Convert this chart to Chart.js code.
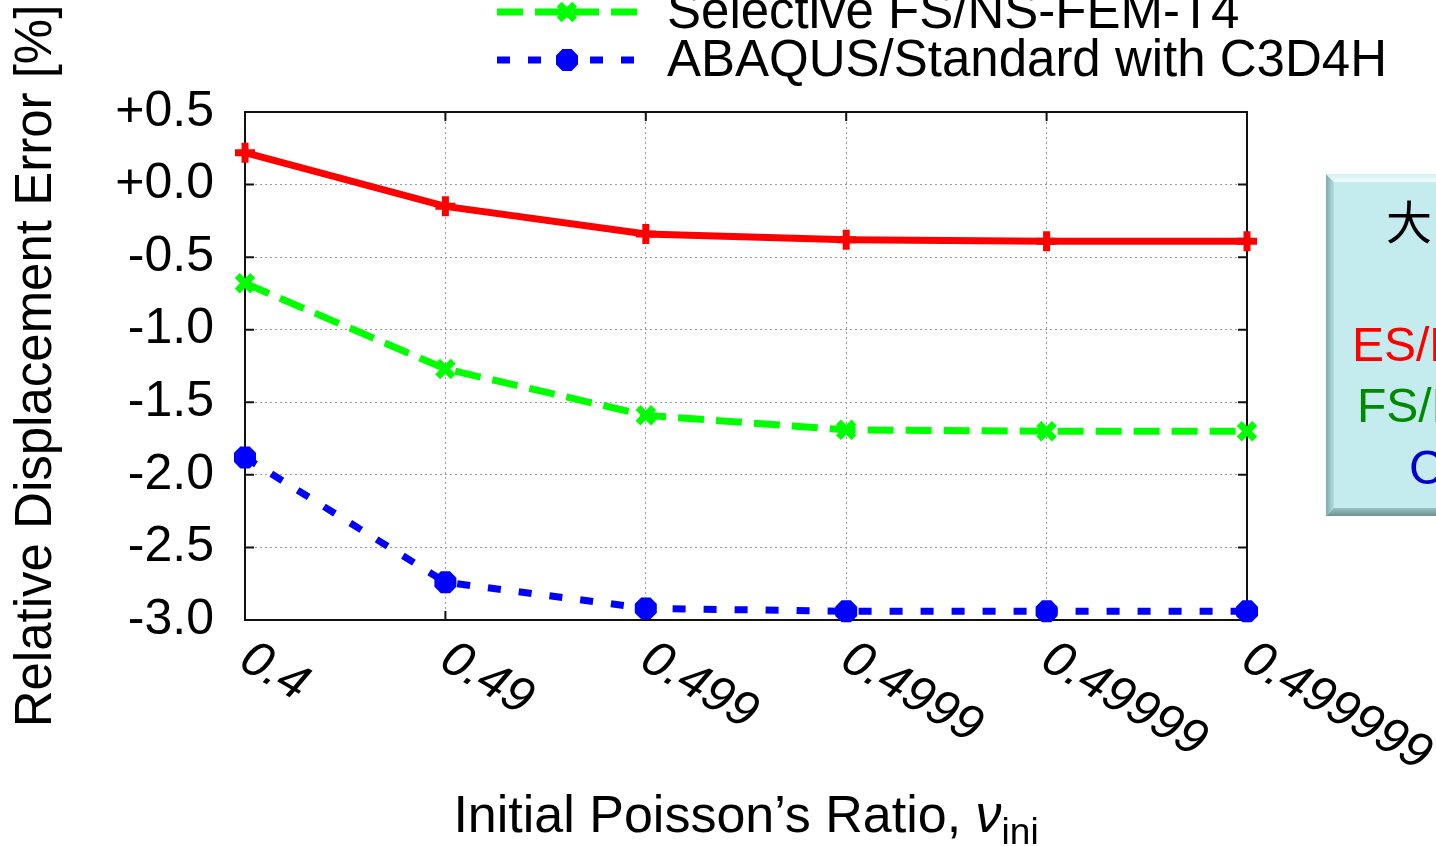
<!DOCTYPE html>
<html>
<head>
<meta charset="utf-8">
<title>Relative displacement error vs. initial Poisson's ratio</title>
<script src="https://cdn.jsdelivr.net/npm/chart.js@4/dist/chart.umd.min.js"></script>
<style>
    html, body { margin: 0; padding: 0; background: #ffffff; overflow: hidden; }
    canvas { display: block; }
</style>
</head>
<body>
<canvas id="errorChart" width="1436" height="846"></canvas>
<script>
// Initial Poisson's ratio cases (categorical, evenly spaced)
const poissonLabels = ['0.4', '0.49', '0.499', '0.4999', '0.49999', '0.499999'];

// Relative displacement error [%] for each method
const esNsFemValues = [0.22, -0.15, -0.34, -0.38, -0.39, -0.39];
const fsNsFemValues = [-0.68, -1.27, -1.59, -1.69, -1.70, -1.70];
const abaqusValues = [-1.88, -2.74, -2.92, -2.94, -2.94, -2.94];

const seriesNames = ['Selective ES/NS-FEM-T4', 'Selective FS/NS-FEM-T4', 'ABAQUS/Standard with C3D4H'];

// y axis range and step
const yMin = -3.0;
const yMax = 0.5;
const yStep = 0.5;

// text of the side note box, one entry per line
const noteLines = [
    { text: '大', color: '#000000' },
    { text: 'ES/NS-FEM-T4', color: '#ff0000' },
    { text: 'FS/NS-FEM-T4', color: '#008a00' },
    { text: 'C3D4H', color: '#0000cc' }
];

const FONT = '"Liberation Sans", Arial, Helvetica, sans-serif';

/**
 * Frame with inward tick marks on all four sides
 */
const framePlugin = {
    id: 'frame',
    beforeDatasetsDraw(chart) {
        const { ctx, chartArea: a, scales } = chart;
        const tick = 9;
        ctx.save();
        ctx.strokeStyle = '#111111';
        ctx.lineWidth = 2;
        ctx.beginPath();
        scales.y.ticks.forEach(t => {
            const y = scales.y.getPixelForValue(t.value);
            ctx.moveTo(a.left, y); ctx.lineTo(a.left + tick, y);
            ctx.moveTo(a.right, y); ctx.lineTo(a.right - tick, y);
        });
        poissonLabels.forEach((_, i) => {
            const x = scales.x.getPixelForValue(i);
            ctx.moveTo(x, a.bottom); ctx.lineTo(x, a.bottom - tick);
            ctx.moveTo(x, a.top); ctx.lineTo(x, a.top + tick);
        });
        ctx.stroke();
        ctx.strokeRect(a.left, a.top, a.right - a.left, a.bottom - a.top);
        ctx.restore();
    }
};

/**
 * Slanted x tick labels, axis titles, key and the note box
 */
const decorPlugin = {
    id: 'decor',
    afterDraw(chart) {
        const { ctx, chartArea: a, scales } = chart;
        ctx.save();
        ctx.fillStyle = '#000000';

        // slanted category labels
        ctx.font = 'italic 50px ' + FONT;
        ctx.textAlign = 'left';
        ctx.textBaseline = 'alphabetic';
        poissonLabels.forEach((label, i) => {
            const x = scales.x.getPixelForValue(i);
            ctx.save();
            ctx.translate(x - 8, a.bottom + 47);
            ctx.rotate(30 * Math.PI / 180);
            ctx.fillText(label, 0, 0);
            ctx.restore();
        });

        // x axis title with subscript
        const main = 'Initial Poisson\u2019s Ratio, ';
        const fMain = '52px ' + FONT;
        const fNu = 'italic 52px ' + FONT;
        const fSub = '37px ' + FONT;
        ctx.font = fMain; const wMain = ctx.measureText(main).width;
        ctx.font = fNu; const wNu = ctx.measureText('\u03bd').width;
        ctx.font = fSub; const wSub = ctx.measureText('ini').width;
        let tx = (a.left + a.right) / 2 - (wMain + wNu + wSub) / 2;
        const ty = 832;
        ctx.font = fMain; ctx.fillText(main, tx, ty); tx += wMain;
        ctx.font = fNu; ctx.fillText('\u03bd', tx, ty); tx += wNu;
        ctx.font = fSub; ctx.fillText('ini', tx, ty + 12);

        // y axis title
        ctx.save();
        ctx.font = '51px ' + FONT;
        ctx.textAlign = 'center';
        ctx.textBaseline = 'middle';
        ctx.translate(37, (a.top + a.bottom) / 2);
        ctx.rotate(-Math.PI / 2);
        ctx.fillText('Relative Displacement Error [%]', 0, 0);
        ctx.restore();

        // key, stacked upward from the last entry
        const n = chart.data.datasets.length;
        chart.data.datasets.forEach((ds, j) => {
            const y = 60 - 48 * (n - 1 - j);
            ctx.save();
            ctx.strokeStyle = ds.borderColor;
            ctx.lineWidth = ds.borderWidth;
            ctx.setLineDash(ds.borderDash || []);
            ctx.beginPath();
            ctx.moveTo(497, y);
            ctx.lineTo(637, y);
            ctx.stroke();
            ctx.setLineDash([]);
            if (Chart.helpers && Chart.helpers.drawPoint) {
                ctx.fillStyle = ds.pointBackgroundColor;
                ctx.strokeStyle = ds.pointBorderColor;
                ctx.lineWidth = ds.pointBorderWidth;
                Chart.helpers.drawPoint(ctx, {
                    pointStyle: ds.pointStyle,
                    radius: ds.pointRadius,
                    rotation: 0,
                    borderWidth: ds.pointBorderWidth
                }, 567, y);
            }
            ctx.restore();
            ctx.font = '51px ' + FONT;
            ctx.textAlign = 'left';
            ctx.textBaseline = 'middle';
            ctx.fillStyle = '#000000';
            ctx.fillText(ds.label, 667, y + 2);
        });

        // bevelled note box on the right
        const bx = 1326, by = 174, bw = 260, bh = 342, bev = 8;
        ctx.fillStyle = '#c4ecee';
        ctx.fillRect(bx, by, bw, bh);
        let g = ctx.createLinearGradient(bx, 0, bx + bev, 0);
        g.addColorStop(0, '#7fa8aa');
        g.addColorStop(1, '#b4dfe1');
        ctx.fillStyle = g;
        ctx.beginPath();
        ctx.moveTo(bx, by); ctx.lineTo(bx + bev, by + bev);
        ctx.lineTo(bx + bev, by + bh - bev); ctx.lineTo(bx, by + bh);
        ctx.closePath(); ctx.fill();
        g = ctx.createLinearGradient(0, by, 0, by + bev);
        g.addColorStop(0, '#d6f1f2');
        g.addColorStop(1, '#f2fbfb');
        ctx.fillStyle = g;
        ctx.beginPath();
        ctx.moveTo(bx, by); ctx.lineTo(bx + bw, by);
        ctx.lineTo(bx + bw - bev, by + bev); ctx.lineTo(bx + bev, by + bev);
        ctx.closePath(); ctx.fill();
        g = ctx.createLinearGradient(0, by + bh - bev, 0, by + bh);
        g.addColorStop(0, '#98bfc1');
        g.addColorStop(1, '#6d9294');
        ctx.fillStyle = g;
        ctx.beginPath();
        ctx.moveTo(bx, by + bh); ctx.lineTo(bx + bev, by + bh - bev);
        ctx.lineTo(bx + bw - bev, by + bh - bev); ctx.lineTo(bx + bw, by + bh);
        ctx.closePath(); ctx.fill();

        ctx.textAlign = 'left';
        ctx.textBaseline = 'middle';
        ctx.fillStyle = noteLines[0].color;
        ctx.font = '46px "Noto Sans CJK JP", sans-serif';
        ctx.fillText(noteLines[0].text, 1386, 222);
        ctx.font = '48px ' + FONT;
        const noteX = [null, 1352, 1357, 1409];
        const noteY = [null, 348, 409, 471];
        for (let k = 1; k < noteLines.length; k++) {
            ctx.fillStyle = noteLines[k].color;
            ctx.fillText(noteLines[k].text, noteX[k], noteY[k]);
        }
        ctx.restore();
    }
};

const ctx = document.getElementById('errorChart').getContext('2d');

new Chart(ctx, {
    type: 'line',
    data: {
        labels: poissonLabels,
        datasets: [
            {
                label: seriesNames[0],
                data: esNsFemValues,
                borderColor: '#ff0000',
                borderWidth: 7,
                pointStyle: 'cross',
                pointRadius: 10,
                pointBorderWidth: 7,
                pointBorderColor: '#ff0000',
                pointBackgroundColor: '#ff0000',
                tension: 0,
                clip: false
            },
            {
                label: seriesNames[1],
                data: fsNsFemValues,
                borderColor: '#00ff00',
                borderWidth: 7,
                borderDash: [26, 12],
                pointStyle: 'crossRot',
                pointRadius: 11,
                pointBorderWidth: 7,
                pointBorderColor: '#00ff00',
                pointBackgroundColor: '#00ff00',
                tension: 0,
                clip: false
            },
            {
                label: seriesNames[2],
                data: abaqusValues,
                borderColor: '#0000ff',
                borderWidth: 7,
                borderDash: [13, 18],
                pointStyle: 'star',
                pointRadius: 11,
                pointBorderWidth: 9,
                pointBorderColor: '#0000ff',
                pointBackgroundColor: '#0000ff',
                tension: 0,
                clip: false
            }
        ]
    },
    options: {
        responsive: false,
        animation: false,
        events: [],
        layout: { padding: { top: 112, right: 189, bottom: 0, left: 0 } },
        plugins: {
            legend: { display: false },
            tooltip: { enabled: false }
        },
        scales: {
            x: {
                offset: false,
                ticks: { display: false },
                grid: { color: '#9a9a9a', lineWidth: 1, drawTicks: false },
                border: { display: false, dash: [2, 3] },
                afterFit: (scale) => { scale.height = 226; }
            },
            y: {
                min: yMin,
                max: yMax,
                ticks: {
                    stepSize: yStep,
                    color: '#000000',
                    padding: 31,
                    font: { family: FONT, size: 50 },
                    callback: (value) => (value >= 0 ? '+' : '') + Number(value).toFixed(1)
                },
                grid: { color: '#9a9a9a', lineWidth: 1, drawTicks: false },
                border: { display: false, dash: [2, 3] },
                afterFit: (scale) => { scale.width = 245; }
            }
        }
    },
    plugins: [framePlugin, decorPlugin]
});
</script>
</body>
</html>
